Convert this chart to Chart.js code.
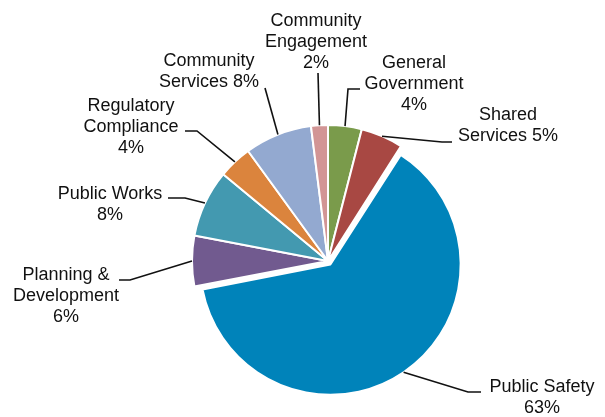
<!DOCTYPE html>
<html>
<head>
<meta charset="utf-8">
<script src="https://cdn.jsdelivr.net/npm/chart.js@4.4.1/dist/chart.umd.min.js"></script>
<style>
  body { margin: 0; background: #fff; }
  #wrap { width: 605px; height: 417px; }
</style>
</head>
<body>
<div id="wrap"><canvas id="budgetPie" width="605" height="417"></canvas></div>
<script>
// departments, clockwise from 12 o'clock ("\n" = line break in the label)
const departments = [
    'General\nGovernment',
    'Shared\nServices',
    'Public Safety',
    'Planning &\nDevelopment',
    'Public Works',
    'Regulatory\nCompliance',
    'Community\nServices',
    'Community\nEngagement'
];
const shares = [4, 5, 63, 6, 8, 4, 8, 2];
const colors = ['#7A9B4B', '#A84843', '#0083BA', '#715A8F', '#4399B0', '#DB843D', '#93A9D0', '#D29595'];

// label placement: text centre x, first baseline y, whether the % sits on its own line,
// and leader line start point + elbow x
const labelPos = [
    { cx: 414, y: 68,  newLine: true,  lx: 360, ly: 89,  kx: 348 },
    { cx: 508, y: 120, newLine: false, lx: 452, ly: 142, kx: 442 },
    { cx: 542, y: 392, newLine: true,  lx: 481, ly: 392, kx: 468 },
    { cx: 66,  y: 280, newLine: true,  lx: 119, ly: 280, kx: 130 },
    { cx: 110, y: 199, newLine: true,  lx: 168, ly: 198, kx: 185 },
    { cx: 131, y: 111, newLine: true,  lx: 185, ly: 131, kx: 197 },
    { cx: 209, y: 66,  newLine: false, lx: 265, ly: 88,  kx: 265 },
    { cx: 316, y: 26,  newLine: true,  lx: 318, ly: 73,  kx: 318 }
];

const explodeIndex = 2;
const explodedRadius = 126;

// the pulled-out slice is drawn a little smaller than the rest
const shrinkExploded = {
    id: 'shrinkExploded',
    afterDatasetUpdate(chart, args) {
        const arc = args.meta.data[explodeIndex];
        if (arc) arc.outerRadius = explodedRadius;
    }
};

// labels with elbow leader lines outside the pie
const outsideLabels = {
    id: 'outsideLabels',
    afterDatasetsDraw(chart) {
        const ctx = chart.ctx;
        const meta = chart.getDatasetMeta(0);
        ctx.save();
        ctx.font = '18px "Liberation Sans", Arial, sans-serif';
        ctx.fillStyle = '#111';
        ctx.textAlign = 'center';
        ctx.textBaseline = 'alphabetic';
        ctx.strokeStyle = '#111';
        ctx.lineWidth = 1.6;
        meta.data.forEach((arc, i) => {
            const p = labelPos[i];
            const mid = (arc.startAngle + arc.endAngle) / 2;
            // same shift Chart.js applies to an offset arc
            const off = (arc.options.offset || 0) / 4;
            const fix = 1 - Math.sin(Math.min(Math.PI, arc.circumference || 0));
            const shift = off + off * fix;
            const ax = arc.x + Math.cos(mid) * (arc.outerRadius + shift);
            const ay = arc.y + Math.sin(mid) * (arc.outerRadius + shift);

            ctx.beginPath();
            ctx.moveTo(p.lx, p.ly);
            ctx.lineTo(p.kx, p.ly);
            ctx.lineTo(ax, ay);
            ctx.stroke();

            const lines = departments[i].split('\n');
            const pct = shares[i] + '%';
            if (p.newLine) lines.push(pct);
            else lines[lines.length - 1] += ' ' + pct;
            lines.forEach((t, k) => ctx.fillText(t, p.cx, p.y + k * 21));
        });
        ctx.restore();
    }
};

const ctx = document.getElementById('budgetPie').getContext('2d');
const budgetPie = new Chart(ctx, {
    type: 'pie',
    data: {
        labels: departments,
        datasets: [{
            data: shares,
            backgroundColor: colors,
            borderColor: '#fff',
            borderWidth: 2,
            offset: shares.map((v, i) => i === explodeIndex ? 17 : 0)
        }]
    },
    options: {
        responsive: false,
        animation: false,
        radius: 136,
        layout: { padding: { left: 51, top: 105, right: 0, bottom: 0 } },
        plugins: {
            legend: { display: false },
            tooltip: { enabled: false }
        }
    },
    plugins: [shrinkExploded, outsideLabels]
});
</script>
</body>
</html>
